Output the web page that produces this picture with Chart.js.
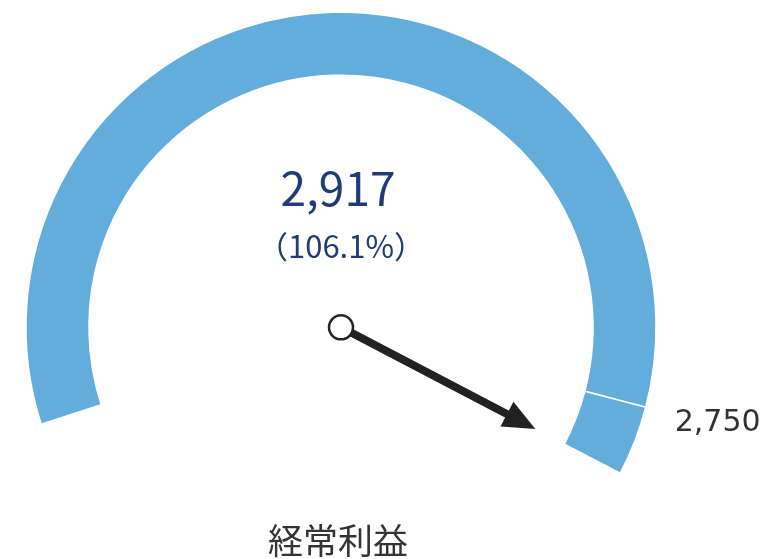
<!DOCTYPE html>
<html lang="ja">
<head>
<meta charset="utf-8">
<title>経常利益</title>
<script src="https://cdn.jsdelivr.net/npm/chart.js@4.4.1/dist/chart.umd.min.js"></script>
<style>
    html, body { margin: 0; padding: 0; background: #ffffff; }
    .chart-container { position: relative; width: 769px; height: 559px; }
</style>
</head>
<body>
<div class="chart-container">
    <canvas id="gaugeChart"></canvas>
</div>
<script>
// Gauge data: target (計画) and the part above it, actual value
const segmentLabels = ['計画', '超過'];
const segmentValues = [2750, 167];
const actualValue = 2917;
const targetLabel = '2,750';
const valueLabel = '2,917';
const ratioLabel = '（106.1%）';
const chartTitle = '経常利益';

const arcColor = '#62addb';
const needleColor = '#222222';

// Needle, centre texts and target label drawn on top of the doughnut
const gaugeOverlay = {
    id: 'gaugeOverlay',
    afterDraw(chart) {
        const meta = chart.getDatasetMeta(0);
        const first = meta.data[0];
        const last = meta.data[meta.data.length - 1];
        const cx = first.x;
        const cy = first.y;
        const outer = first.outerRadius;
        const inner = first.innerRadius;
        const ctx = chart.ctx;

        // angle for the actual value along the arc
        const total = segmentValues.reduce((a, b) => a + b, 0);
        const start = first.startAngle;
        const end = last.endAngle;
        const angle = start + (end - start) * Math.min(actualValue / total, 1);

        ctx.save();
        // needle shaft
        const tipLen = inner * 0.87;
        const headLen = 32;
        const headHalf = 14;
        ctx.translate(cx, cy);
        ctx.rotate(angle);
        ctx.strokeStyle = needleColor;
        ctx.lineWidth = 8;
        ctx.beginPath();
        ctx.moveTo(0, 0);
        ctx.lineTo(tipLen - headLen + 2, 0);
        ctx.stroke();
        // arrow head
        ctx.fillStyle = needleColor;
        ctx.beginPath();
        ctx.moveTo(tipLen, 0);
        ctx.lineTo(tipLen - headLen, -headHalf);
        ctx.lineTo(tipLen - headLen, headHalf);
        ctx.closePath();
        ctx.fill();
        ctx.restore();

        // pivot
        ctx.save();
        ctx.beginPath();
        ctx.arc(cx, cy, 12, 0, Math.PI * 2);
        ctx.fillStyle = '#ffffff';
        ctx.fill();
        ctx.lineWidth = 2.5;
        ctx.strokeStyle = needleColor;
        ctx.stroke();

        // centre value and ratio
        ctx.textAlign = 'center';
        ctx.textBaseline = 'alphabetic';
        ctx.fillStyle = '#213a78';
        ctx.font = '46px "Noto Sans CJK JP", "Noto Sans", sans-serif';
        ctx.fillText(valueLabel, cx - 3, cy - 121);
        ctx.font = '31px "Noto Sans CJK JP", "Noto Sans", sans-serif';
        ctx.fillText(ratioLabel, cx, cy - 69);

        // target label beside the split
        const splitAngle = first.endAngle;
        ctx.fillStyle = '#333333';
        ctx.textAlign = 'left';
        ctx.font = '30px "DejaVu Sans", sans-serif';
        ctx.fillText(targetLabel, cx + Math.cos(splitAngle) * outer + 29, cy + Math.sin(splitAngle) * outer + 24);

        // title under the gauge
        ctx.textAlign = 'center';
        ctx.textBaseline = 'middle';
        ctx.font = '35px "Noto Sans CJK JP", sans-serif';
        ctx.fillText(chartTitle, cx - 3, 541);
        ctx.restore();
    }
};

const gaugeCtx = document.getElementById('gaugeChart');
new Chart(gaugeCtx, {
    type: 'doughnut',
    data: {
        labels: segmentLabels,
        datasets: [{
            data: segmentValues,
            backgroundColor: [arcColor, arcColor],
            borderColor: '#ffffff',
            borderWidth: 1.5
        }]
    },
    options: {
        responsive: true,
        maintainAspectRatio: false,
        animation: false,
        rotation: 252.1,
        circumference: 225.5,
        cutout: '80%',
        layout: {
            padding: { left: 25, right: 112, top: 11.5, bottom: 85 }
        },
        plugins: {
            legend: { display: false },
            tooltip: { enabled: false }
        }
    },
    plugins: [gaugeOverlay]
});
</script>
</body>
</html>
